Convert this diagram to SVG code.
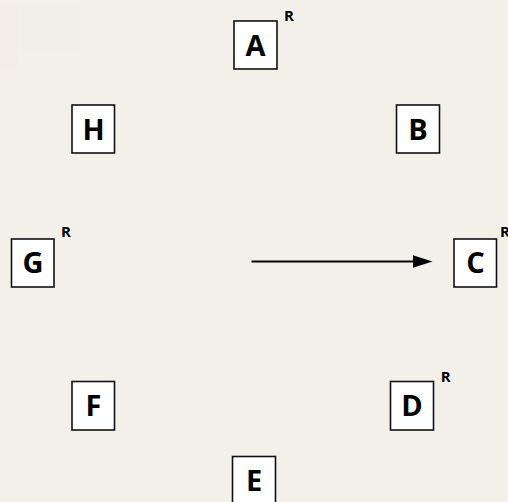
<svg xmlns="http://www.w3.org/2000/svg" width="508" height="502" viewBox="0 0 508 502">
<style>
.box{fill:#ffffff;stroke:#111111;stroke-width:1.6}
.lbl{font-family:"Open Sans","Noto Sans","DejaVu Sans",sans-serif;font-weight:bold;font-size:29px;text-anchor:middle;fill:#000}
.r{font-family:"Open Sans","Noto Sans","DejaVu Sans",sans-serif;font-weight:bold;font-size:15px;text-anchor:middle;fill:#000}
.edge{stroke:#000;stroke-width:2.2;fill:none}
</style>
<rect width="508" height="502" fill="#f3f0ea"/>
<rect x="0" y="5" width="18" height="65" fill="#f4ede8" opacity="0.6"/>
<rect x="20" y="5" width="60" height="45" fill="#f1eee8" opacity="0.6"/>
<g id="connectors">
<line class="edge" x1="251.5" y1="261.5" x2="414" y2="261.5"/>
<path d="M413,255.3 L432.5,261.5 L413,267.7 Z" fill="#000"/>
</g>
<g id="A"><rect class="box" x="234" y="21" width="43" height="48"/><text class="lbl" x="255.5" y="55.5">A</text><text class="r" x="289" y="21">R</text></g>
<g id="B"><rect class="box" x="396.5" y="105" width="43" height="48"/><text class="lbl" x="418" y="139.5">B</text></g>
<g id="C"><rect class="box" x="454" y="239" width="42.5" height="48"/><text class="lbl" x="475.5" y="273">C</text><text class="r" x="505" y="237">R</text></g>
<g id="D"><rect class="box" x="390.5" y="381.5" width="43" height="48.5"/><text class="lbl" x="412" y="415.5">D</text><text class="r" x="445.7" y="381.7">R</text></g>
<g id="E"><rect class="box" x="232.5" y="456.5" width="43" height="48"/><text class="lbl" x="254" y="490.5">E</text></g>
<g id="F"><rect class="box" x="72" y="381.5" width="42.5" height="48.5"/><text class="lbl" x="93.5" y="415.5">F</text></g>
<g id="G"><rect class="box" x="11.5" y="239" width="42.5" height="48"/><text class="lbl" x="33" y="273">G</text><text class="r" x="66" y="237">R</text></g>
<g id="H"><rect class="box" x="72" y="105" width="42.5" height="48"/><text class="lbl" x="93.5" y="139.5">H</text></g>
</svg>
